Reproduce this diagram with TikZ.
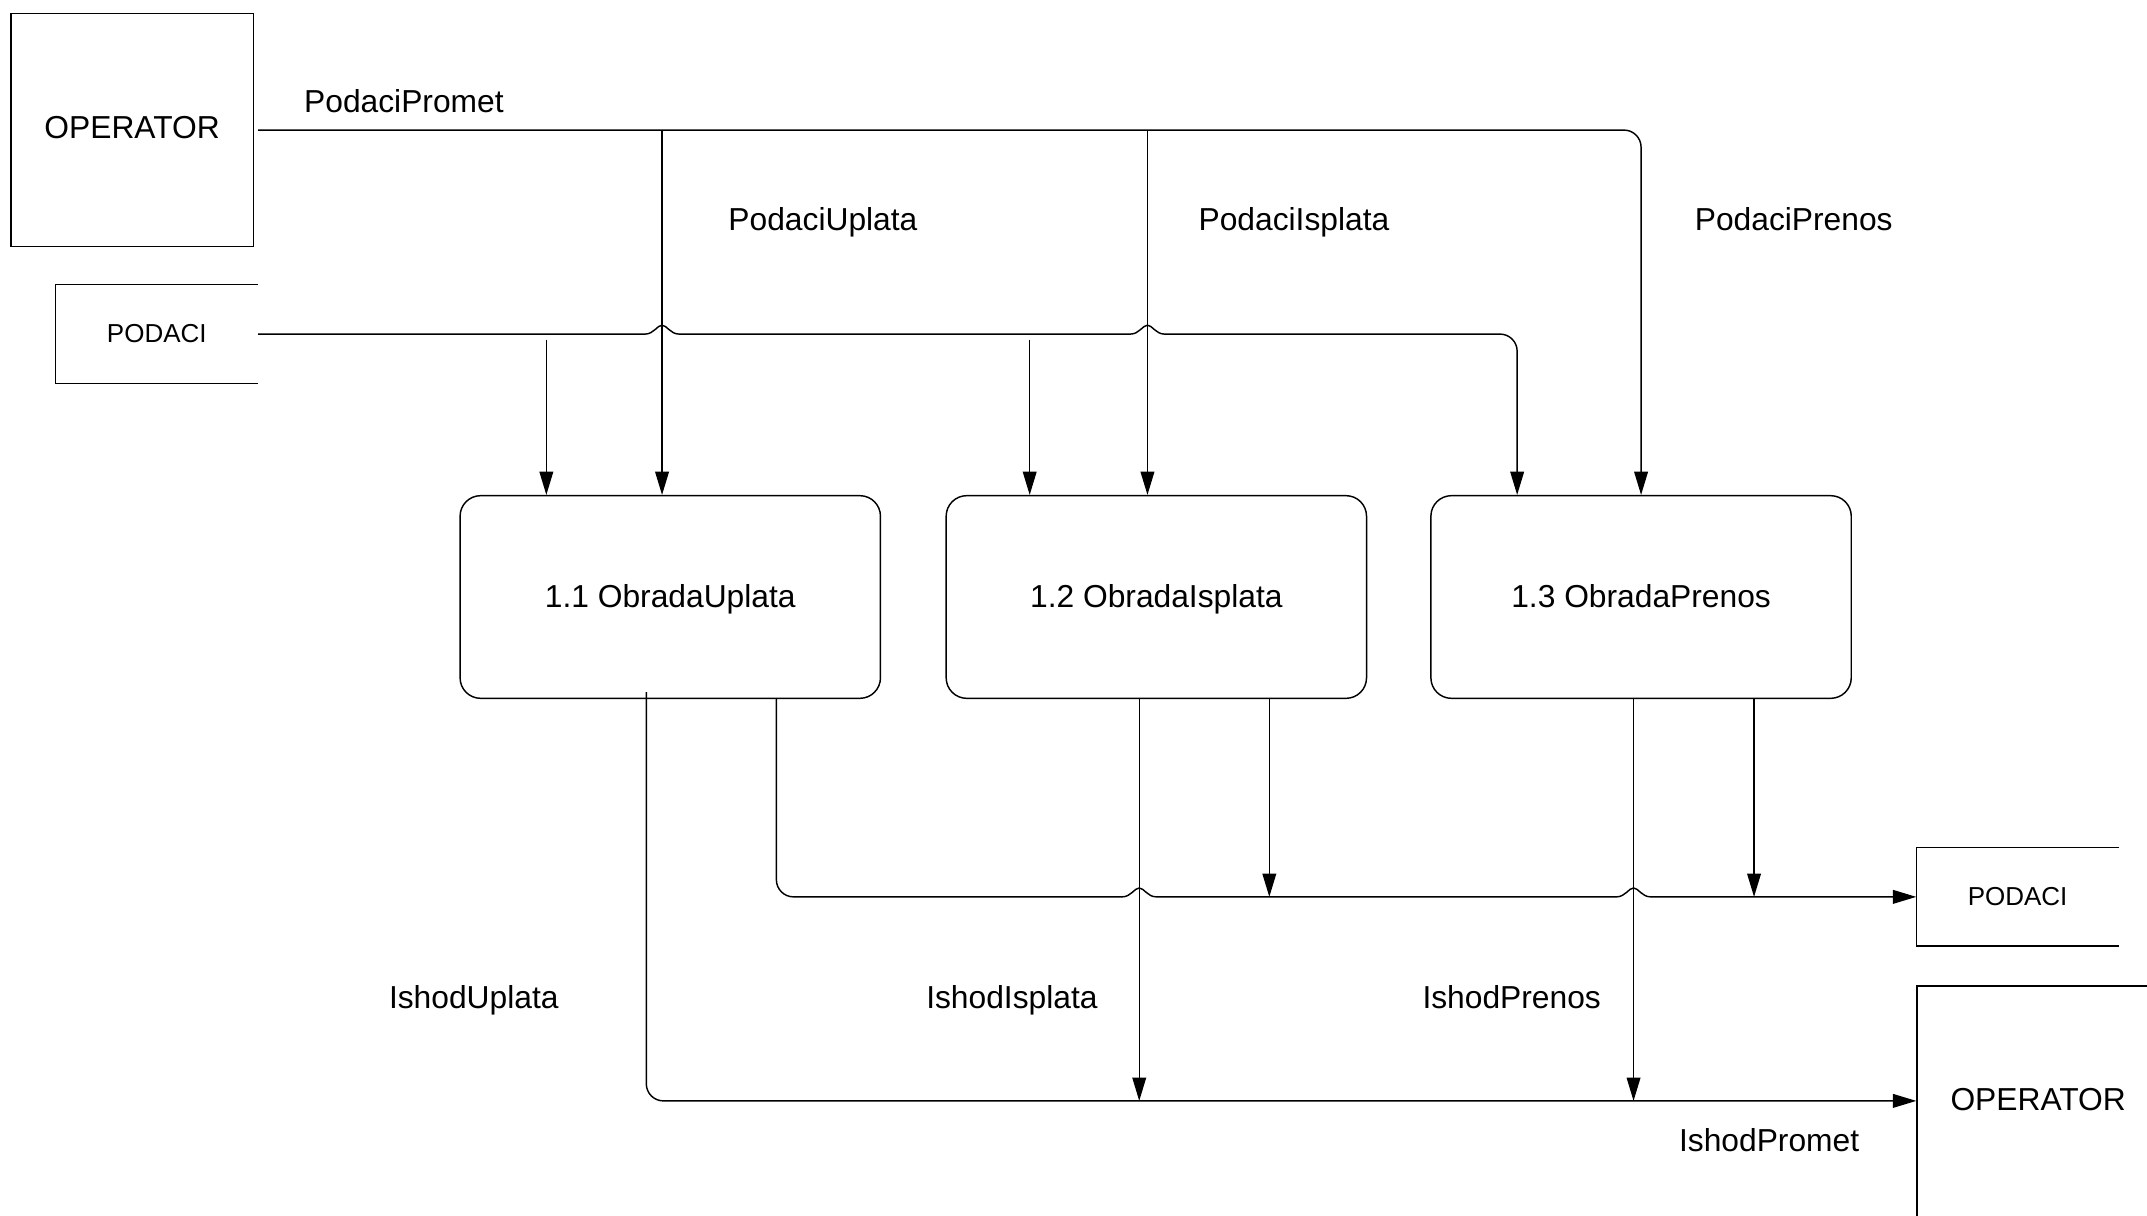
\documentclass[tikz,border=0pt]{standalone}
\usepackage{fontspec}
\setmainfont{Liberation Sans}
\usetikzlibrary{arrows.meta}

% small jump of a flow line over a crossing line
\newcommand{\linehop}{.. controls +(0.13,0) and +(-0.07,0) .. ++(0.25,0.13) .. controls +(0.07,0) and +(-0.13,0) .. ++(0.25,-0.13)}

\begin{document}
\begin{tikzpicture}[line width=0.6pt,
  >={Triangle[length=0.34cm,width=0.2cm]},
  entity/.style={draw, minimum width=3.54cm, minimum height=3.40cm, text height=0.72em, text depth=0pt, font=\fontsize{13.2}{16}\selectfont},
  store/.style={minimum width=2.94cm, minimum height=1.42cm, text height=0.72em, text depth=0pt, font=\fontsize{10.8}{13}\selectfont},
  process/.style={draw, rounded corners=0.3cm, minimum width=6.14cm, minimum height=2.96cm, text height=0.90em, text depth=0pt, font=\fontsize{13.2}{16}\selectfont},
  flowtext/.style={text height=0.94em, text depth=0pt, font=\fontsize{13.2}{16}\selectfont}]
\clip (0,0) rectangle (31.36,-17.76);
% draw operators
\node[entity] (op1) at (1.93,-1.90) {OPERATOR};
\node[entity] (op2) at (29.77,-16.10) {OPERATOR};
% draw data stores
\node[store] (store1) at (2.29,-4.88) {PODACI};
\draw (store1.north east) -- (store1.north west) -- (store1.south west) -- (store1.south east);
\node[store] (store2) at (29.47,-13.10) {PODACI};
\draw (store2.north east) -- (store2.north west) -- (store2.south west) -- (store2.south east);
% draw processes
\node[process] (p1) at (9.79,-8.72) {1.1 ObradaUplata};
\node[process] (p2) at (16.89,-8.72) {1.2 ObradaIsplata};
\node[process] (p3) at (23.97,-8.72) {1.3 ObradaPrenos};
% input from operator
\draw[->,rounded corners=0.25cm] ([xshift=0.06cm]op1.east) -| (p3.north);
\draw[->] ([xshift=-0.12cm]p1.north |- op1.east) -- ([xshift=-0.12cm]p1.north);
\draw[->] ([xshift=-0.13cm]p2.north |- op1.east) -- ([xshift=-0.13cm]p2.north);
% input from data store
\draw[->] (store1.east) -- ([xshift=-0.37cm]p1.north |- store1.east) \linehop
  -- ([xshift=-0.38cm]p2.north |- store1.east) \linehop
  -- ([xshift=-2.06cm]p3.north |- store1.east) arc[start angle=90, end angle=0, radius=0.25cm]
  -- ([xshift=-1.81cm]p3.north);
\draw[->] ([xshift=-1.81cm,yshift=-0.08cm]p1.north |- store1.east) -- ([xshift=-1.81cm]p1.north);
\draw[->] ([xshift=-1.85cm,yshift=-0.08cm]p2.north |- store1.east) -- ([xshift=-1.85cm]p2.north);
% output to data store
\draw[->] ([xshift=1.55cm]p1.south) -- ([xshift=1.55cm,yshift=0.25cm]p1.south |- store2.west)
  arc[start angle=180, end angle=270, radius=0.25cm]
  -- ([xshift=-0.5cm]p2.south |- store2.west) \linehop
  -- ([xshift=-0.36cm]p3.south |- store2.west) \linehop
  -- (store2.west);
\draw[->] ([xshift=1.65cm]p2.south) -- ([xshift=1.65cm]p2.south |- store2.west);
\draw[->] ([xshift=1.65cm]p3.south) -- ([xshift=1.65cm]p3.south |- store2.west);
% output to operator
\draw[->,rounded corners=0.25cm] ([xshift=-0.35cm,yshift=0.1cm]p1.south) |- ([yshift=0.02cm]op2.west);
\draw[->] ([xshift=-0.25cm]p2.south) -- ([xshift=-0.25cm,yshift=0.02cm]p2.south |- op2.west);
\draw[->] ([xshift=-0.11cm]p3.south) -- ([xshift=-0.11cm,yshift=0.02cm]p3.south |- op2.west);
% draw flow names
\node[flowtext] (tpromet) at (5.90,-1.48) {PodaciPromet};
\node[flowtext] (tuplata) at (12.02,-3.20) {PodaciUplata};
\node[flowtext] (tisplata) at (18.90,-3.20) {PodaciIsplata};
\node[flowtext] (tprenos) at (26.20,-3.20) {PodaciPrenos};
\node[flowtext] (iuplata) at (6.92,-14.56) {IshodUplata};
\node[flowtext] (iisplata) at (14.78,-14.56) {IshodIsplata};
\node[flowtext] (iprenos) at (22.08,-14.56) {IshodPrenos};
\node[flowtext] (ipromet) at (25.84,-16.66) {IshodPromet};
\end{tikzpicture}
\end{document}
